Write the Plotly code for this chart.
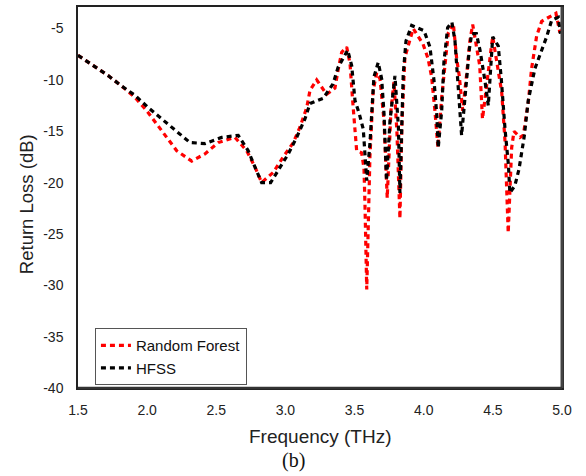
import plotly.graph_objects as go

# Random Forest (red) prediction
rf_freq = [1.5, 1.61, 1.72, 1.816, 1.912, 1.997, 2.069, 2.141, 2.214, 2.322, 2.418, 2.514,
           2.635, 2.72, 2.78, 2.828, 2.912, 2.984, 3.057, 3.105, 3.154, 3.178, 3.226, 3.298,
           3.358, 3.38, 3.407, 3.443, 3.467, 3.486, 3.515, 3.551, 3.568, 3.575, 3.588, 3.611,
           3.635, 3.66, 3.684, 3.713, 3.736, 3.763, 3.785, 3.806, 3.828, 3.843, 3.864, 3.924,
           3.995, 4.031, 4.057, 4.081, 4.103, 4.13, 4.154, 4.178, 4.214, 4.239, 4.257, 4.282,
           4.311, 4.334, 4.354, 4.378, 4.405, 4.425, 4.465, 4.49, 4.499, 4.564, 4.588, 4.60,
           4.611, 4.636, 4.653, 4.696, 4.72, 4.756, 4.78, 4.817, 4.853, 4.956, 4.985]
rf_loss = [-7.6, -8.6, -9.6, -10.6, -11.7, -13.0, -14.3, -15.6, -16.9, -17.9, -17.2, -16.1,
           -15.6, -16.9, -18.5, -20.0, -19.0, -17.5, -16.1, -14.6, -12.7, -11.0, -10.0, -11.4,
           -10.8, -9.1, -7.3, -6.8, -8.4, -12.0, -16.9, -17.1, -18.6, -22.0, -30.4, -17.5,
           -11.0, -9.3, -9.9, -14.0, -21.5, -13.0, -10.2, -15.0, -23.5, -14.0, -7.8, -5.0,
           -6.5, -7.9, -9.7, -13.0, -16.6, -11.7, -8.8, -5.4, -4.5, -8.0, -9.6, -13.0,
           -9.4, -6.2, -4.6, -6.5, -8.6, -13.8, -9.0, -6.7, -5.8, -11.2, -16.0, -21.1,
           -24.9, -16.6, -15.0, -15.6, -15.4, -12.2, -8.9, -5.7, -4.3, -3.5, -5.4]

# HFSS simulation (black)
hfss_freq = [1.5, 1.61, 1.72, 1.816, 1.912, 2.008, 2.105, 2.201, 2.31, 2.418, 2.539, 2.659,
             2.731, 2.78, 2.828, 2.893, 2.961, 3.021, 3.081, 3.141, 3.178, 3.272, 3.344, 3.38,
             3.45, 3.479, 3.503, 3.534, 3.563, 3.588, 3.611, 3.64, 3.671, 3.696, 3.713, 3.731,
             3.756, 3.792, 3.817, 3.828, 3.852, 3.872, 3.913, 4.002, 4.045, 4.074, 4.094, 4.105,
             4.13, 4.146, 4.173, 4.204, 4.226, 4.25, 4.274, 4.298, 4.329, 4.347, 4.381, 4.407,
             4.425, 4.443, 4.467, 4.483, 4.499, 4.539, 4.561, 4.588, 4.612, 4.623, 4.659, 4.689,
             4.727, 4.756, 4.804, 4.889, 4.925, 4.973, 4.989]
hfss_loss = [-7.6, -8.6, -9.6, -10.6, -11.5, -12.7, -13.8, -14.9, -16.1, -16.2, -15.6, -15.4,
             -16.9, -18.5, -20.0, -20.0, -18.5, -17.2, -15.6, -13.8, -12.3, -11.8, -10.4, -8.8,
             -7.1, -8.6, -12.0, -13.3, -14.8, -19.8, -16.2, -9.7, -8.3, -9.9, -13.3, -19.8,
             -14.0, -9.6, -14.6, -21.0, -9.4, -6.2, -4.7, -5.2, -6.8, -10.0, -13.3, -16.6,
             -13.0, -8.3, -4.9, -4.4, -6.2, -11.0, -15.4, -11.8, -7.1, -5.5, -5.5, -7.1,
             -8.5, -10.1, -12.5, -8.5, -5.8, -6.7, -9.9, -14.8, -18.2, -21.0, -20.3, -18.7,
             -15.5, -12.0, -8.9, -5.8, -4.2, -3.9, -5.5]

x_ticks = [1.5, 2.0, 2.5, 3.0, 3.5, 4.0, 4.5, 5.0]
x_tick_labels = ["1.5", "2.0", "2.5", "3.0", "3.5", "4.0", "4.5", "5.0"]
y_ticks = [-5, -10, -15, -20, -25, -30, -35, -40]
y_tick_labels = ["-5", "-10", "-15", "-20", "-25", "-30", "-35", "-40"]

font_family = "Liberation Sans, Arial, sans-serif"

fig = go.Figure()
fig.add_trace(go.Scatter(
    x=rf_freq, y=rf_loss, mode="lines", name="Random Forest",
    line=dict(color="#ff0000", width=3.2, dash="5px,4px"),
))
fig.add_trace(go.Scatter(
    x=hfss_freq, y=hfss_loss, mode="lines", name="HFSS",
    line=dict(color="#000000", width=3.2, dash="5px,4px"),
))

fig.update_layout(
    width=586, height=476,
    margin=dict(l=78, r=24, t=7, b=88, autoexpand=False),
    paper_bgcolor="white", plot_bgcolor="white",
    font=dict(family=font_family, size=14, color="#222"),
    showlegend=True,
    legend=dict(
        x=0.035, y=0.157, xanchor="left", yanchor="top",
        bgcolor="white", bordercolor="#555", borderwidth=1,
        font=dict(size=15, color="#111"),
        tracegroupgap=0, itemwidth=30,
    ),
    xaxis=dict(
        range=[1.5, 5.0], tickvals=x_ticks, ticktext=x_tick_labels,
        showgrid=False, zeroline=False, showline=True, mirror=True,
        linecolor="#222", linewidth=1.5, ticks="", ticklen=0,
        ticklabelstandoff=8, automargin=False,
        tickfont=dict(size=14, color="#222"),
    ),
    yaxis=dict(
        range=[-40, -2.9], tickvals=y_ticks, ticktext=y_tick_labels,
        showgrid=False, zeroline=False, showline=True, mirror=True,
        linecolor="#222", linewidth=1.5, ticks="", ticklen=0,
        ticklabelstandoff=10, automargin=False,
        tickfont=dict(size=14, color="#222"),
    ),
    shapes=[
        dict(type="line", xref="paper", yref="paper", x0=1, x1=1, y0=0, y1=1,
             line=dict(color="#444", width=3)),
        dict(type="line", xref="paper", yref="paper", x0=0, x1=1, y0=0, y1=0,
             line=dict(color="#333", width=2.5)),
    ],
    annotations=[
        dict(text="Frequency (THz)", x=0.5, y=-0.1286, xref="paper", yref="paper",
             xanchor="center", yanchor="middle", showarrow=False,
             font=dict(size=19, color="#222")),
        dict(text="Return Loss (dB)", x=-0.105, y=0.483, xref="paper", yref="paper",
             xanchor="center", yanchor="middle", showarrow=False, textangle=-90,
             font=dict(size=18.5, color="#222")),
        dict(text="(b)", x=0.446, y=-0.189, xref="paper", yref="paper",
             xanchor="center", yanchor="middle", showarrow=False,
             font=dict(family="Liberation Serif, Times New Roman, serif", size=20, color="#111")),
    ],
)

fig.write_html("out.html", config={"displayModeBar": False},
               post_script="document.body.style.margin='0px';")
